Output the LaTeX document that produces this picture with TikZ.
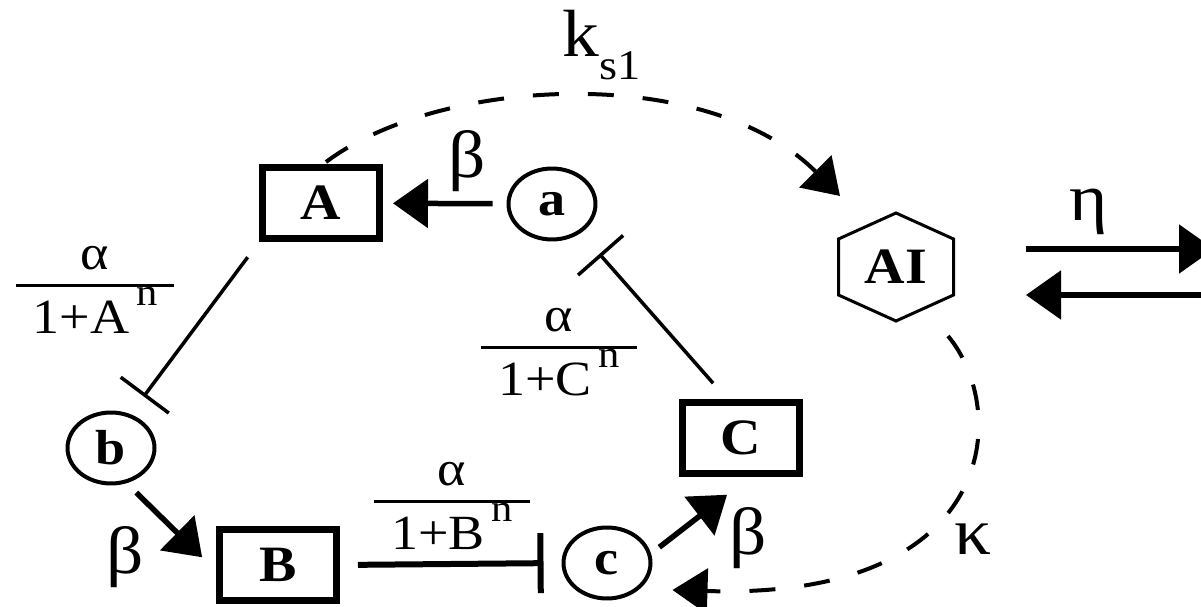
\documentclass[tikz,border=0pt]{standalone}
\usepackage{fontspec}
\setmainfont[FakeStretch=1.1]{Liberation Serif}
\usetikzlibrary{arrows.meta,shapes.geometric,calc}

% Hill-type repression term
\newcommand{\hillfrac}[1]{%
  {\fontsize{28}{30}\selectfont
   \setlength{\tabcolsep}{3.4mm}\setlength{\arrayrulewidth}{0.7mm}%
   \begin{tabular}{c}
     α\\[-0.4mm]\hline
     \rule{0pt}{8.4mm}1+#1\hspace{1.4mm}\raisebox{16pt}{\fontsize{22}{22}\selectfont n}
   \end{tabular}}}

\begin{document}
\begin{tikzpicture}[
    x=0.02cm, y=-0.02cm,
    gene/.style={draw, line width=1.4mm, minimum width=23.4mm, minimum height=14.2mm,
                 inner sep=0pt, font=\fontsize{29}{29}\selectfont\bfseries},
    mrna/.style={ellipse, draw, line width=0.8mm, minimum width=17.4mm, minimum height=14.2mm,
                 inner sep=0pt, font=\fontsize{28}{28}\selectfont\bfseries},
    inducer/.style={inner sep=0pt, font=\fontsize{29}{29}\selectfont\bfseries},
    hexline/.style={line width=0.6mm, line join=miter},
    greek/.style={inner sep=0pt, font=\fontsize{38}{38}\selectfont},
    act/.style={line width=1.1mm, -{Triangle[length=7mm, width=9.6mm]}},
    inhib/.style={line width=0.7mm, -{Bar[width=12mm, line width=0.7mm]}},
    inhibthick/.style={line width=1.2mm, -{Bar[width=12mm, line width=1.2mm]}},
    signal/.style={line width=0.8mm, dash pattern=on 5.2mm off 5.8mm,
                   -{Triangle[length=7mm, width=9mm]}}
  ]
  \useasboundingbox (0,0) rectangle (1201,607);

  % genes and mRNAs
  \node[gene] (A) at (321,203) {A};
  \node[gene] (B) at (278,565) {B};
  \node[gene] (C) at (741,438) {C};
  \node[mrna] (a) at (552,204) {a};
  \node[mrna] (b) at (111,448) {b};
  \node[mrna] (c) at (607,563) {c};

  % autoinducer
  \node[inducer] (AI) at (896,267) {AI};
  \draw[hexline, shift={(AI)}] (0,-54) -- (57.5,-28) -- (57.5,28) -- (0,54)
    -- (-57.5,28) -- (-57.5,-28) -- cycle;

  % translation
  \draw[act, shorten <=2.8mm, shorten >=2mm] (a) -- (A);
  \draw[act, shorten <=2.7mm, shorten >=2.2mm] (b.-66) -- ($(B.west)+(-6,0)$);
  \draw[act, shorten <=2.1mm, shorten >=5.8mm] (c.12) -- ($(C.south)+(9,0)$);
  \node[greek] (betaA) at (467,161) {β};
  \node[greek] (betaB) at (125,557) {β};
  \node[greek] (betaC) at (748,538) {β};

  % repression
  \draw[inhib, shorten <=3.8mm, shorten >=4.4mm] (A.south west) -- (b.60);
  \draw[inhib, shorten <=4.2mm, shorten >=5.6mm] ($(C.north)+(-14,0)$) -- (a.-45);
  \draw[inhibthick, shorten <=3.6mm, shorten >=3.6mm] (B.east) -- (c.west);
  \node[inner sep=0pt] (fracA) at (95,291) {\hillfrac{A}};
  \node[inner sep=0pt] (fracC) at (559,353) {\hillfrac{C}};
  \node[inner sep=0pt] (fracB) at (452,507) {\hillfrac{B}};

  % AI synthesis and feedback
  \draw[signal] ($(A.north)+(5,-2)$) .. controls (439,77) and (706,62) .. ($(AI)+(-56,-71)$);
  \node[greek, anchor=base west] (ks1) at (562,57)
    {k\raisebox{-13pt}{\fontsize{24}{24}\selectfont s1}};
  \draw[signal] ($(AI)+(52,69)$) .. controls (1010,410) and (1000,600) .. ($(c.east)+(20,27)$);
  \node[greek] (kappa) at (973,539) {κ};

  % diffusion
  \coordinate (inL) at (1026,249);
  \coordinate (inR) at (1214,249);
  \coordinate (outR) at (1201,295);
  \coordinate (outL) at (1026,295);
  \draw[act] (inL) -- (inR);
  \draw[act] (outR) -- (outL);
  \node[greek] (eta) at (1089,212) {η};
\end{tikzpicture}
\end{document}
